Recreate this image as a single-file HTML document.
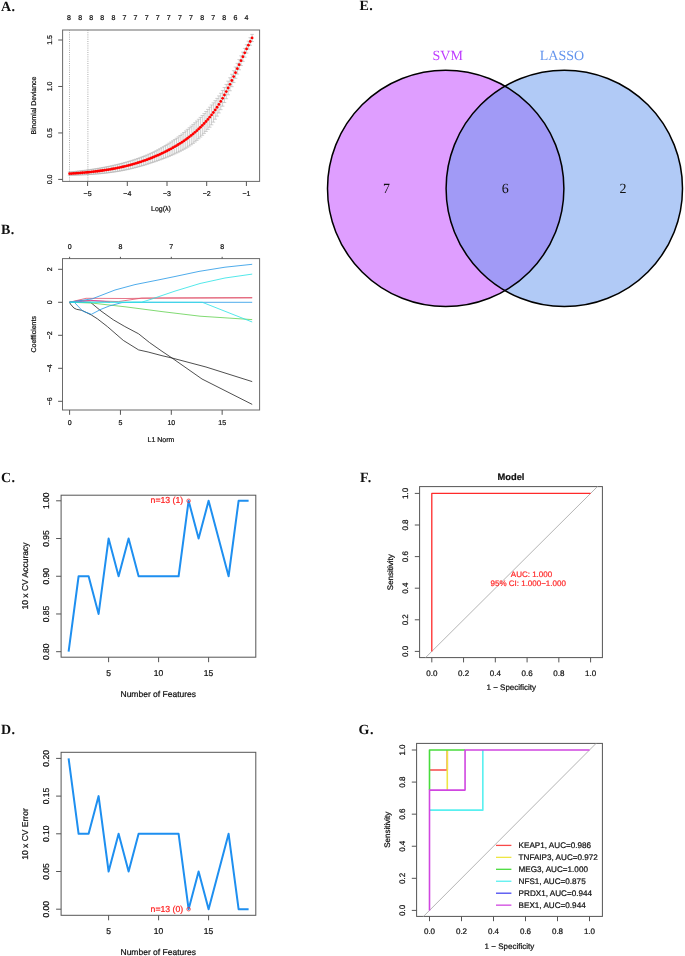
<!DOCTYPE html>
<html><head><meta charset="utf-8"><style>
html,body{margin:0;padding:0;background:#fff;}
body{width:685px;height:956px;overflow:hidden;}
svg{display:block;will-change:transform;}
text{text-rendering:geometricPrecision;}
</style></head><body>
<svg width="685" height="956" viewBox="0 0 685 956">
<rect width="685" height="956" fill="#fff"/>
<text x="0.9" y="11" text-anchor="start" font-family='"Liberation Serif", serif' font-size="14" fill="#111" stroke="#111" font-weight="bold" letter-spacing="0.6" stroke-width="0">A.</text>
<rect x="62.6" y="30" width="197" height="151.4" fill="none" stroke="#6a6a6a" stroke-width="1"/>
<line x1="58.2" y1="179.4" x2="62.6" y2="179.4" stroke="#555" stroke-width="1" />
<text transform="translate(51.7,179.4) rotate(-90)" text-anchor="middle" font-family='"Liberation Sans", sans-serif' font-size="7" fill="#111" stroke="#111" font-weight="normal"  stroke-width="0.22">0.0</text>
<line x1="58.2" y1="132.94" x2="62.6" y2="132.94" stroke="#555" stroke-width="1" />
<text transform="translate(51.7,132.94) rotate(-90)" text-anchor="middle" font-family='"Liberation Sans", sans-serif' font-size="7" fill="#111" stroke="#111" font-weight="normal"  stroke-width="0.22">0.5</text>
<line x1="58.2" y1="86.47" x2="62.6" y2="86.47" stroke="#555" stroke-width="1" />
<text transform="translate(51.7,86.47) rotate(-90)" text-anchor="middle" font-family='"Liberation Sans", sans-serif' font-size="7" fill="#111" stroke="#111" font-weight="normal"  stroke-width="0.22">1.0</text>
<line x1="58.2" y1="40" x2="62.6" y2="40" stroke="#555" stroke-width="1" />
<text transform="translate(51.7,40) rotate(-90)" text-anchor="middle" font-family='"Liberation Sans", sans-serif' font-size="7" fill="#111" stroke="#111" font-weight="normal"  stroke-width="0.22">1.5</text>
<line x1="87.6" y1="181.4" x2="87.6" y2="186" stroke="#555" stroke-width="1" />
<text x="87.6" y="195.8" text-anchor="middle" font-family='"Liberation Sans", sans-serif' font-size="7" fill="#111" stroke="#111" font-weight="normal"  stroke-width="0.22">&#8722;5</text>
<line x1="127.3" y1="181.4" x2="127.3" y2="186" stroke="#555" stroke-width="1" />
<text x="127.3" y="195.8" text-anchor="middle" font-family='"Liberation Sans", sans-serif' font-size="7" fill="#111" stroke="#111" font-weight="normal"  stroke-width="0.22">&#8722;4</text>
<line x1="167" y1="181.4" x2="167" y2="186" stroke="#555" stroke-width="1" />
<text x="167" y="195.8" text-anchor="middle" font-family='"Liberation Sans", sans-serif' font-size="7" fill="#111" stroke="#111" font-weight="normal"  stroke-width="0.22">&#8722;3</text>
<line x1="206.7" y1="181.4" x2="206.7" y2="186" stroke="#555" stroke-width="1" />
<text x="206.7" y="195.8" text-anchor="middle" font-family='"Liberation Sans", sans-serif' font-size="7" fill="#111" stroke="#111" font-weight="normal"  stroke-width="0.22">&#8722;2</text>
<line x1="246.4" y1="181.4" x2="246.4" y2="186" stroke="#555" stroke-width="1" />
<text x="246.4" y="195.8" text-anchor="middle" font-family='"Liberation Sans", sans-serif' font-size="7" fill="#111" stroke="#111" font-weight="normal"  stroke-width="0.22">&#8722;1</text>
<text transform="translate(35.5,105.5) rotate(-90)" text-anchor="middle" font-family='"Liberation Sans", sans-serif' font-size="7" fill="#111" stroke="#111" font-weight="normal"  stroke-width="0.22">Binomial Deviance</text>
<text x="161" y="211" text-anchor="middle" font-family='"Liberation Sans", sans-serif' font-size="7" fill="#111" stroke="#111" font-weight="normal"  stroke-width="0.22">Log(&#955;)</text>
<text x="69" y="20.1" text-anchor="middle" font-family='"Liberation Sans", sans-serif' font-size="7" fill="#111" stroke="#111" font-weight="normal"  stroke-width="0.22">8</text>
<text x="80.09" y="20.1" text-anchor="middle" font-family='"Liberation Sans", sans-serif' font-size="7" fill="#111" stroke="#111" font-weight="normal"  stroke-width="0.22">8</text>
<text x="91.18" y="20.1" text-anchor="middle" font-family='"Liberation Sans", sans-serif' font-size="7" fill="#111" stroke="#111" font-weight="normal"  stroke-width="0.22">8</text>
<text x="102.27" y="20.1" text-anchor="middle" font-family='"Liberation Sans", sans-serif' font-size="7" fill="#111" stroke="#111" font-weight="normal"  stroke-width="0.22">8</text>
<text x="113.36" y="20.1" text-anchor="middle" font-family='"Liberation Sans", sans-serif' font-size="7" fill="#111" stroke="#111" font-weight="normal"  stroke-width="0.22">8</text>
<text x="124.45" y="20.1" text-anchor="middle" font-family='"Liberation Sans", sans-serif' font-size="7" fill="#111" stroke="#111" font-weight="normal"  stroke-width="0.22">7</text>
<text x="135.54" y="20.1" text-anchor="middle" font-family='"Liberation Sans", sans-serif' font-size="7" fill="#111" stroke="#111" font-weight="normal"  stroke-width="0.22">7</text>
<text x="146.63" y="20.1" text-anchor="middle" font-family='"Liberation Sans", sans-serif' font-size="7" fill="#111" stroke="#111" font-weight="normal"  stroke-width="0.22">7</text>
<text x="157.72" y="20.1" text-anchor="middle" font-family='"Liberation Sans", sans-serif' font-size="7" fill="#111" stroke="#111" font-weight="normal"  stroke-width="0.22">7</text>
<text x="168.81" y="20.1" text-anchor="middle" font-family='"Liberation Sans", sans-serif' font-size="7" fill="#111" stroke="#111" font-weight="normal"  stroke-width="0.22">7</text>
<text x="179.9" y="20.1" text-anchor="middle" font-family='"Liberation Sans", sans-serif' font-size="7" fill="#111" stroke="#111" font-weight="normal"  stroke-width="0.22">7</text>
<text x="190.99" y="20.1" text-anchor="middle" font-family='"Liberation Sans", sans-serif' font-size="7" fill="#111" stroke="#111" font-weight="normal"  stroke-width="0.22">7</text>
<text x="202.08" y="20.1" text-anchor="middle" font-family='"Liberation Sans", sans-serif' font-size="7" fill="#111" stroke="#111" font-weight="normal"  stroke-width="0.22">8</text>
<text x="213.17" y="20.1" text-anchor="middle" font-family='"Liberation Sans", sans-serif' font-size="7" fill="#111" stroke="#111" font-weight="normal"  stroke-width="0.22">7</text>
<text x="224.26" y="20.1" text-anchor="middle" font-family='"Liberation Sans", sans-serif' font-size="7" fill="#111" stroke="#111" font-weight="normal"  stroke-width="0.22">8</text>
<text x="235.35" y="20.1" text-anchor="middle" font-family='"Liberation Sans", sans-serif' font-size="7" fill="#111" stroke="#111" font-weight="normal"  stroke-width="0.22">6</text>
<text x="246.44" y="20.1" text-anchor="middle" font-family='"Liberation Sans", sans-serif' font-size="7" fill="#111" stroke="#111" font-weight="normal"  stroke-width="0.22">4</text>
<line x1="69.5" y1="30" x2="69.5" y2="181.4" stroke="#888" stroke-width="0.7" stroke-dasharray="1,1.2"/>
<line x1="87.9" y1="30" x2="87.9" y2="181.4" stroke="#888" stroke-width="0.7" stroke-dasharray="1,1.2"/>
<path d="M69.6 172.04V175.29M67.8 172.04h3.6M67.8 175.29h3.6M71.44 171.86V175.25M69.64 171.86h3.6M69.64 175.25h3.6M73.29 171.67V175.2M71.49 171.67h3.6M71.49 175.2h3.6M75.13 171.47V175.15M73.33 171.47h3.6M73.33 175.15h3.6M76.97 171.27V175.09M75.17 171.27h3.6M75.17 175.09h3.6M78.82 171.06V175.03M77.02 171.06h3.6M77.02 175.03h3.6M80.66 170.85V174.95M78.86 170.85h3.6M78.86 174.95h3.6M82.5 170.63V174.88M80.7 170.63h3.6M80.7 174.88h3.6M84.35 170.4V174.79M82.55 170.4h3.6M82.55 174.79h3.6M86.19 170.16V174.69M84.39 170.16h3.6M84.39 174.69h3.6M88.03 169.91V174.59M86.23 169.91h3.6M86.23 174.59h3.6M89.88 169.65V174.48M88.08 169.65h3.6M88.08 174.48h3.6M91.72 169.39V174.36M89.92 169.39h3.6M89.92 174.36h3.6M93.56 169.11V174.23M91.76 169.11h3.6M91.76 174.23h3.6M95.41 168.82V174.08M93.61 168.82h3.6M93.61 174.08h3.6M97.25 168.53V173.93M95.45 168.53h3.6M95.45 173.93h3.6M99.09 168.22V173.77M97.29 168.22h3.6M97.29 173.77h3.6M100.94 167.9V173.59M99.14 167.9h3.6M99.14 173.59h3.6M102.78 167.57V173.41M100.98 167.57h3.6M100.98 173.41h3.6M104.63 167.22V173.21M102.83 167.22h3.6M102.83 173.21h3.6M106.47 166.87V173M104.67 166.87h3.6M104.67 173h3.6M108.31 166.5V172.77M106.51 166.5h3.6M106.51 172.77h3.6M110.16 166.11V172.53M108.36 166.11h3.6M108.36 172.53h3.6M112 165.72V172.28M110.2 165.72h3.6M110.2 172.28h3.6M113.84 165.3V172.02M112.04 165.3h3.6M112.04 172.02h3.6M115.69 164.88V171.74M113.89 164.88h3.6M113.89 171.74h3.6M117.53 164.43V171.44M115.73 164.43h3.6M115.73 171.44h3.6M119.37 163.98V171.13M117.57 163.98h3.6M117.57 171.13h3.6M121.22 163.5V170.8M119.42 163.5h3.6M119.42 170.8h3.6M123.06 163.02V170.45M121.26 163.02h3.6M121.26 170.45h3.6M124.9 162.52V170.08M123.1 162.52h3.6M123.1 170.08h3.6M126.75 162V169.7M124.95 162h3.6M124.95 169.7h3.6M128.59 161.47V169.29M126.79 161.47h3.6M126.79 169.29h3.6M130.43 160.92V168.87M128.63 160.92h3.6M128.63 168.87h3.6M132.28 160.35V168.43M130.48 160.35h3.6M130.48 168.43h3.6M134.12 159.76V167.97M132.32 159.76h3.6M132.32 167.97h3.6M135.96 159.15V167.49M134.16 159.15h3.6M134.16 167.49h3.6M137.81 158.52V166.99M136.01 158.52h3.6M136.01 166.99h3.6M139.65 157.86V166.48M137.85 157.86h3.6M137.85 166.48h3.6M141.49 157.18V165.95M139.69 157.18h3.6M139.69 165.95h3.6M143.34 156.48V165.41M141.54 156.48h3.6M141.54 165.41h3.6M145.18 155.75V164.85M143.38 155.75h3.6M143.38 164.85h3.6M147.02 154.99V164.27M145.22 154.99h3.6M145.22 164.27h3.6M148.87 154.2V163.68M147.07 154.2h3.6M147.07 163.68h3.6M150.71 153.38V163.07M148.91 153.38h3.6M148.91 163.07h3.6M152.55 152.53V162.45M150.75 152.53h3.6M150.75 162.45h3.6M154.4 151.63V161.83M152.6 151.63h3.6M152.6 161.83h3.6M156.24 150.7V161.2M154.44 150.7h3.6M154.44 161.2h3.6M158.08 149.73V160.55M156.28 149.73h3.6M156.28 160.55h3.6M159.93 148.72V159.9M158.13 148.72h3.6M158.13 159.9h3.6M161.77 147.68V159.22M159.97 147.68h3.6M159.97 159.22h3.6M163.62 146.61V158.53M161.82 146.61h3.6M161.82 158.53h3.6M165.46 145.51V157.82M163.66 145.51h3.6M163.66 157.82h3.6M167.3 144.37V157.08M165.5 144.37h3.6M165.5 157.08h3.6M169.15 143.21V156.33M167.35 143.21h3.6M167.35 156.33h3.6M170.99 142.02V155.54M169.19 142.02h3.6M169.19 155.54h3.6M172.83 140.8V154.73M171.03 140.8h3.6M171.03 154.73h3.6M174.68 139.55V153.88M172.88 139.55h3.6M172.88 153.88h3.6M176.52 138.26V153M174.72 138.26h3.6M174.72 153h3.6M178.36 136.9V152.12M176.56 136.9h3.6M176.56 152.12h3.6M180.21 135.49V151.22M178.41 135.49h3.6M178.41 151.22h3.6M182.05 134.02V150.28M180.25 134.02h3.6M180.25 150.28h3.6M183.89 132.5V149.31M182.09 132.5h3.6M182.09 149.31h3.6M185.74 130.95V148.28M183.94 130.95h3.6M183.94 148.28h3.6M187.58 129.35V147.18M185.78 129.35h3.6M185.78 147.18h3.6M189.42 127.73V146.01M187.62 127.73h3.6M187.62 146.01h3.6M191.27 126.08V144.76M189.47 126.08h3.6M189.47 144.76h3.6M193.11 124.42V143.4M191.31 124.42h3.6M191.31 143.4h3.6M194.95 122.74V141.94M193.15 122.74h3.6M193.15 141.94h3.6M196.8 121.03V140.38M195 121.03h3.6M195 140.38h3.6M198.64 119.26V138.75M196.84 119.26h3.6M196.84 138.75h3.6M200.48 117.42V137.05M198.68 117.42h3.6M198.68 137.05h3.6M202.33 115.52V135.27M200.53 115.52h3.6M200.53 135.27h3.6M204.17 113.56V133.4M202.37 113.56h3.6M202.37 133.4h3.6M206.01 111.52V131.44M204.21 111.52h3.6M204.21 131.44h3.6M207.86 109.4V129.38M206.06 109.4h3.6M206.06 129.38h3.6M209.7 107.2V127.2M207.9 107.2h3.6M207.9 127.2h3.6M211.54 104.98V124.82M209.74 104.98h3.6M209.74 124.82h3.6M213.39 102.82V122.14M211.59 102.82h3.6M211.59 122.14h3.6M215.23 100.65V119.23M213.43 100.65h3.6M213.43 119.23h3.6M217.07 98.38V116.14M215.27 98.38h3.6M215.27 116.14h3.6M218.92 95.92V112.95M217.12 95.92h3.6M217.12 112.95h3.6M220.76 93.28V109.65M218.96 93.28h3.6M218.96 109.65h3.6M222.61 90.48V106.17M220.81 90.48h3.6M220.81 106.17h3.6M224.45 87.53V102.52M222.65 87.53h3.6M222.65 102.52h3.6M226.29 84.41V98.72M224.49 84.41h3.6M224.49 98.72h3.6M228.14 81.16V94.8M226.34 81.16h3.6M226.34 94.8h3.6M229.98 77.77V90.78M228.18 77.77h3.6M228.18 90.78h3.6M231.82 74.27V86.68M230.02 74.27h3.6M230.02 86.68h3.6M233.67 70.69V82.52M231.87 70.69h3.6M231.87 82.52h3.6M235.51 67.04V78.3M233.71 67.04h3.6M233.71 78.3h3.6M237.35 63.33V74.06M235.55 63.33h3.6M235.55 74.06h3.6M239.2 59.6V69.81M237.4 59.6h3.6M237.4 69.81h3.6M241.04 55.84V65.57M239.24 55.84h3.6M239.24 65.57h3.6M242.88 52.1V61.36M241.08 52.1h3.6M241.08 61.36h3.6M244.73 48.39V57.2M242.93 48.39h3.6M242.93 57.2h3.6M246.57 44.75V53.12M244.77 44.75h3.6M244.77 53.12h3.6M248.41 41.18V49.13M246.61 41.18h3.6M246.61 49.13h3.6M250.26 37.72V45.27M248.46 37.72h3.6M248.46 45.27h3.6M252.1 34.38V41.55M250.3 34.38h3.6M250.3 41.55h3.6" stroke="#a8a8a8" stroke-width="0.55" fill="none"/>
<g fill="#ff0000"><circle cx="69.6" cy="173.66" r="1.4"/><circle cx="71.44" cy="173.55" r="1.4"/><circle cx="73.29" cy="173.43" r="1.4"/><circle cx="75.13" cy="173.31" r="1.4"/><circle cx="76.97" cy="173.18" r="1.4"/><circle cx="78.82" cy="173.04" r="1.4"/><circle cx="80.66" cy="172.9" r="1.4"/><circle cx="82.5" cy="172.75" r="1.4"/><circle cx="84.35" cy="172.59" r="1.4"/><circle cx="86.19" cy="172.43" r="1.4"/><circle cx="88.03" cy="172.25" r="1.4"/><circle cx="89.88" cy="172.07" r="1.4"/><circle cx="91.72" cy="171.87" r="1.4"/><circle cx="93.56" cy="171.67" r="1.4"/><circle cx="95.41" cy="171.45" r="1.4"/><circle cx="97.25" cy="171.23" r="1.4"/><circle cx="99.09" cy="170.99" r="1.4"/><circle cx="100.94" cy="170.75" r="1.4"/><circle cx="102.78" cy="170.49" r="1.4"/><circle cx="104.63" cy="170.22" r="1.4"/><circle cx="106.47" cy="169.93" r="1.4"/><circle cx="108.31" cy="169.63" r="1.4"/><circle cx="110.16" cy="169.32" r="1.4"/><circle cx="112" cy="169" r="1.4"/><circle cx="113.84" cy="168.66" r="1.4"/><circle cx="115.69" cy="168.31" r="1.4"/><circle cx="117.53" cy="167.94" r="1.4"/><circle cx="119.37" cy="167.55" r="1.4"/><circle cx="121.22" cy="167.15" r="1.4"/><circle cx="123.06" cy="166.73" r="1.4"/><circle cx="124.9" cy="166.3" r="1.4"/><circle cx="126.75" cy="165.85" r="1.4"/><circle cx="128.59" cy="165.38" r="1.4"/><circle cx="130.43" cy="164.89" r="1.4"/><circle cx="132.28" cy="164.39" r="1.4"/><circle cx="134.12" cy="163.86" r="1.4"/><circle cx="135.96" cy="163.32" r="1.4"/><circle cx="137.81" cy="162.76" r="1.4"/><circle cx="139.65" cy="162.17" r="1.4"/><circle cx="141.49" cy="161.57" r="1.4"/><circle cx="143.34" cy="160.94" r="1.4"/><circle cx="145.18" cy="160.3" r="1.4"/><circle cx="147.02" cy="159.63" r="1.4"/><circle cx="148.87" cy="158.94" r="1.4"/><circle cx="150.71" cy="158.23" r="1.4"/><circle cx="152.55" cy="157.49" r="1.4"/><circle cx="154.4" cy="156.73" r="1.4"/><circle cx="156.24" cy="155.95" r="1.4"/><circle cx="158.08" cy="155.14" r="1.4"/><circle cx="159.93" cy="154.31" r="1.4"/><circle cx="161.77" cy="153.45" r="1.4"/><circle cx="163.62" cy="152.57" r="1.4"/><circle cx="165.46" cy="151.66" r="1.4"/><circle cx="167.3" cy="150.73" r="1.4"/><circle cx="169.15" cy="149.77" r="1.4"/><circle cx="170.99" cy="148.78" r="1.4"/><circle cx="172.83" cy="147.76" r="1.4"/><circle cx="174.68" cy="146.71" r="1.4"/><circle cx="176.52" cy="145.63" r="1.4"/><circle cx="178.36" cy="144.51" r="1.4"/><circle cx="180.21" cy="143.35" r="1.4"/><circle cx="182.05" cy="142.15" r="1.4"/><circle cx="183.89" cy="140.91" r="1.4"/><circle cx="185.74" cy="139.61" r="1.4"/><circle cx="187.58" cy="138.27" r="1.4"/><circle cx="189.42" cy="136.87" r="1.4"/><circle cx="191.27" cy="135.42" r="1.4"/><circle cx="193.11" cy="133.91" r="1.4"/><circle cx="194.95" cy="132.34" r="1.4"/><circle cx="196.8" cy="130.71" r="1.4"/><circle cx="198.64" cy="129.01" r="1.4"/><circle cx="200.48" cy="127.24" r="1.4"/><circle cx="202.33" cy="125.4" r="1.4"/><circle cx="204.17" cy="123.48" r="1.4"/><circle cx="206.01" cy="121.48" r="1.4"/><circle cx="207.86" cy="119.39" r="1.4"/><circle cx="209.7" cy="117.2" r="1.4"/><circle cx="211.54" cy="114.9" r="1.4"/><circle cx="213.39" cy="112.48" r="1.4"/><circle cx="215.23" cy="109.94" r="1.4"/><circle cx="217.07" cy="107.26" r="1.4"/><circle cx="218.92" cy="104.44" r="1.4"/><circle cx="220.76" cy="101.46" r="1.4"/><circle cx="222.61" cy="98.33" r="1.4"/><circle cx="224.45" cy="95.02" r="1.4"/><circle cx="226.29" cy="91.57" r="1.4"/><circle cx="228.14" cy="87.98" r="1.4"/><circle cx="229.98" cy="84.28" r="1.4"/><circle cx="231.82" cy="80.48" r="1.4"/><circle cx="233.67" cy="76.6" r="1.4"/><circle cx="235.51" cy="72.67" r="1.4"/><circle cx="237.35" cy="68.7" r="1.4"/><circle cx="239.2" cy="64.7" r="1.4"/><circle cx="241.04" cy="60.71" r="1.4"/><circle cx="242.88" cy="56.73" r="1.4"/><circle cx="244.73" cy="52.8" r="1.4"/><circle cx="246.57" cy="48.93" r="1.4"/><circle cx="248.41" cy="45.16" r="1.4"/><circle cx="250.26" cy="41.49" r="1.4"/><circle cx="252.1" cy="37.96" r="1.4"/></g>
<text x="0.9" y="234.4" text-anchor="start" font-family='"Liberation Serif", serif' font-size="14" fill="#111" stroke="#111" font-weight="bold" letter-spacing="0.6" stroke-width="0">B.</text>
<rect x="62.5" y="258.6" width="197.1" height="151.4" fill="none" stroke="#6a6a6a" stroke-width="1"/>
<line x1="58.1" y1="269.3" x2="62.5" y2="269.3" stroke="#555" stroke-width="1" />
<text transform="translate(51.7,269.3) rotate(-90)" text-anchor="middle" font-family='"Liberation Sans", sans-serif' font-size="7" fill="#111" stroke="#111" font-weight="normal"  stroke-width="0.22">2</text>
<line x1="58.1" y1="302.3" x2="62.5" y2="302.3" stroke="#555" stroke-width="1" />
<text transform="translate(51.7,302.3) rotate(-90)" text-anchor="middle" font-family='"Liberation Sans", sans-serif' font-size="7" fill="#111" stroke="#111" font-weight="normal"  stroke-width="0.22">0</text>
<line x1="58.1" y1="335.3" x2="62.5" y2="335.3" stroke="#555" stroke-width="1" />
<text transform="translate(51.7,335.3) rotate(-90)" text-anchor="middle" font-family='"Liberation Sans", sans-serif' font-size="7" fill="#111" stroke="#111" font-weight="normal"  stroke-width="0.22">&#8722;2</text>
<line x1="58.1" y1="368.3" x2="62.5" y2="368.3" stroke="#555" stroke-width="1" />
<text transform="translate(51.7,368.3) rotate(-90)" text-anchor="middle" font-family='"Liberation Sans", sans-serif' font-size="7" fill="#111" stroke="#111" font-weight="normal"  stroke-width="0.22">&#8722;4</text>
<line x1="58.1" y1="401.3" x2="62.5" y2="401.3" stroke="#555" stroke-width="1" />
<text transform="translate(51.7,401.3) rotate(-90)" text-anchor="middle" font-family='"Liberation Sans", sans-serif' font-size="7" fill="#111" stroke="#111" font-weight="normal"  stroke-width="0.22">&#8722;6</text>
<line x1="69.6" y1="410" x2="69.6" y2="414.8" stroke="#555" stroke-width="1" />
<line x1="69.6" y1="258.6" x2="69.6" y2="256.8" stroke="#555" stroke-width="1" />
<text x="69.6" y="425.1" text-anchor="middle" font-family='"Liberation Sans", sans-serif' font-size="7" fill="#111" stroke="#111" font-weight="normal"  stroke-width="0.22">0</text>
<text x="69.6" y="249" text-anchor="middle" font-family='"Liberation Sans", sans-serif' font-size="7" fill="#111" stroke="#111" font-weight="normal"  stroke-width="0.22">0</text>
<line x1="120.45" y1="410" x2="120.45" y2="414.8" stroke="#555" stroke-width="1" />
<line x1="120.45" y1="258.6" x2="120.45" y2="256.8" stroke="#555" stroke-width="1" />
<text x="120.45" y="425.1" text-anchor="middle" font-family='"Liberation Sans", sans-serif' font-size="7" fill="#111" stroke="#111" font-weight="normal"  stroke-width="0.22">5</text>
<text x="120.45" y="249" text-anchor="middle" font-family='"Liberation Sans", sans-serif' font-size="7" fill="#111" stroke="#111" font-weight="normal"  stroke-width="0.22">8</text>
<line x1="171.3" y1="410" x2="171.3" y2="414.8" stroke="#555" stroke-width="1" />
<line x1="171.3" y1="258.6" x2="171.3" y2="256.8" stroke="#555" stroke-width="1" />
<text x="171.3" y="425.1" text-anchor="middle" font-family='"Liberation Sans", sans-serif' font-size="7" fill="#111" stroke="#111" font-weight="normal"  stroke-width="0.22">10</text>
<text x="171.3" y="249" text-anchor="middle" font-family='"Liberation Sans", sans-serif' font-size="7" fill="#111" stroke="#111" font-weight="normal"  stroke-width="0.22">7</text>
<line x1="222.15" y1="410" x2="222.15" y2="414.8" stroke="#555" stroke-width="1" />
<line x1="222.15" y1="258.6" x2="222.15" y2="256.8" stroke="#555" stroke-width="1" />
<text x="222.15" y="425.1" text-anchor="middle" font-family='"Liberation Sans", sans-serif' font-size="7" fill="#111" stroke="#111" font-weight="normal"  stroke-width="0.22">15</text>
<text x="222.15" y="249" text-anchor="middle" font-family='"Liberation Sans", sans-serif' font-size="7" fill="#111" stroke="#111" font-weight="normal"  stroke-width="0.22">8</text>
<text transform="translate(35.5,334.3) rotate(-90)" text-anchor="middle" font-family='"Liberation Sans", sans-serif' font-size="7" fill="#111" stroke="#111" font-weight="normal"  stroke-width="0.22">Coefficients</text>
<text x="161" y="442.1" text-anchor="middle" font-family='"Liberation Sans", sans-serif' font-size="7" fill="#111" stroke="#111" font-weight="normal"  stroke-width="0.22">L1 Norm</text>
<polyline points="69.6,302.2 70.4,304 73.9,308 76.5,309.3 81.8,310.3 91.4,315 97.5,318.9 107.3,326.5 123.3,340.4 138.6,349.9 148.1,352 162,355.7 172,358 206,367 252.2,381.6" fill="none" stroke="#222" stroke-width="0.8" stroke-linejoin="round" />
<polyline points="69.6,302.2 90.5,302.3 101,311 113.3,319.8 124.8,326.5 138.6,333.8 149.6,342.6 162,351.3 172,358 202,379 252.2,404.4" fill="none" stroke="#222" stroke-width="0.8" stroke-linejoin="round" />
<polyline points="69.6,302.2 92.3,303.1 126,306.9 162,311.6 200,316.2 252.2,319.6" fill="none" stroke="#61D04F" stroke-width="0.8" stroke-linejoin="round" />
<polyline points="69.6,302.2 82.6,301.4 90.5,300.3 104.5,301.4 110,302.2" fill="none" stroke="#CD0BBC" stroke-width="0.8" stroke-linejoin="round" />
<polyline points="69.6,302.2 86.1,298.3 126,298.5 162,298 252.2,297.6" fill="none" stroke="#DF536B" stroke-width="0.8" stroke-linejoin="round" />
<polyline points="69.6,302.2 79.1,300.5 100,301 118.4,301.6 141.7,298.1 200,298 252.2,297.9" fill="none" stroke="#DF536B" stroke-width="0.8" stroke-linejoin="round" />
<polyline points="69.6,302.2 92.3,298.8 115,290 135,284.6 158,280 175,276.5 199,271.4 225,267.2 252.2,264.3" fill="none" stroke="#2297E6" stroke-width="0.8" stroke-linejoin="round" />
<polyline points="69.6,302.2 74.3,302.3 82.6,311 91.4,314.3 101,309.3 109.8,305.8 122,302.6 135,302.3 252.2,302.3" fill="none" stroke="#2297E6" stroke-width="0.8" stroke-linejoin="round" />
<polyline points="69.6,302.2 141.7,302.2 150,299.6 175,291.1 200,283.5 225,278 252.2,274.1" fill="none" stroke="#28E2E5" stroke-width="0.8" stroke-linejoin="round" />
<polyline points="69.6,302.2 202.3,302.3 252.2,322" fill="none" stroke="#28E2E5" stroke-width="0.8" stroke-linejoin="round" />
<text x="0.9" y="482.4" text-anchor="start" font-family='"Liberation Serif", serif' font-size="14" fill="#111" stroke="#111" font-weight="bold" letter-spacing="0.6" stroke-width="0">C.</text>
<rect x="61.1" y="495.2" width="194.7" height="162" fill="none" stroke="#555" stroke-width="1"/>
<line x1="56.1" y1="651.7" x2="61.1" y2="651.7" stroke="#555" stroke-width="1" />
<text transform="translate(48.6,651.7) rotate(-90)" text-anchor="middle" font-family='"Liberation Sans", sans-serif' font-size="8.5" fill="#111" stroke="#111" font-weight="normal"  stroke-width="0.22">0.80</text>
<line x1="56.1" y1="613.98" x2="61.1" y2="613.98" stroke="#555" stroke-width="1" />
<text transform="translate(48.6,613.98) rotate(-90)" text-anchor="middle" font-family='"Liberation Sans", sans-serif' font-size="8.5" fill="#111" stroke="#111" font-weight="normal"  stroke-width="0.22">0.85</text>
<line x1="56.1" y1="576.25" x2="61.1" y2="576.25" stroke="#555" stroke-width="1" />
<text transform="translate(48.6,576.25) rotate(-90)" text-anchor="middle" font-family='"Liberation Sans", sans-serif' font-size="8.5" fill="#111" stroke="#111" font-weight="normal"  stroke-width="0.22">0.90</text>
<line x1="56.1" y1="538.53" x2="61.1" y2="538.53" stroke="#555" stroke-width="1" />
<text transform="translate(48.6,538.53) rotate(-90)" text-anchor="middle" font-family='"Liberation Sans", sans-serif' font-size="8.5" fill="#111" stroke="#111" font-weight="normal"  stroke-width="0.22">0.95</text>
<line x1="56.1" y1="500.8" x2="61.1" y2="500.8" stroke="#555" stroke-width="1" />
<text transform="translate(48.6,500.8) rotate(-90)" text-anchor="middle" font-family='"Liberation Sans", sans-serif' font-size="8.5" fill="#111" stroke="#111" font-weight="normal"  stroke-width="0.22">1.00</text>
<line x1="108.6" y1="657.2" x2="108.6" y2="662.2" stroke="#555" stroke-width="1" />
<text x="108.6" y="676.1" text-anchor="middle" font-family='"Liberation Sans", sans-serif' font-size="8.5" fill="#111" stroke="#111" font-weight="normal"  stroke-width="0.22">5</text>
<line x1="158.6" y1="657.2" x2="158.6" y2="662.2" stroke="#555" stroke-width="1" />
<text x="158.6" y="676.1" text-anchor="middle" font-family='"Liberation Sans", sans-serif' font-size="8.5" fill="#111" stroke="#111" font-weight="normal"  stroke-width="0.22">10</text>
<line x1="208.6" y1="657.2" x2="208.6" y2="662.2" stroke="#555" stroke-width="1" />
<text x="208.6" y="676.1" text-anchor="middle" font-family='"Liberation Sans", sans-serif' font-size="8.5" fill="#111" stroke="#111" font-weight="normal"  stroke-width="0.22">15</text>
<text x="158.3" y="696.6" text-anchor="middle" font-family='"Liberation Sans", sans-serif' font-size="8.5" fill="#111" stroke="#111" font-weight="normal"  stroke-width="0.22">Number of Features</text>
<text transform="translate(28.1,576) rotate(-90)" text-anchor="middle" font-family='"Liberation Sans", sans-serif' font-size="8.5" fill="#111" stroke="#111" font-weight="normal"  stroke-width="0.22">10 x CV Accuracy</text>
<polyline points="68.6,651.7 78.6,576.25 88.6,576.25 98.6,613.98 108.6,538.53 118.6,576.25 128.6,538.53 138.6,576.25 148.6,576.25 158.6,576.25 168.6,576.25 178.6,576.25 188.6,500.8 198.6,538.53 208.6,500.8 218.6,538.53 228.6,576.25 238.6,500.8 248.6,500.8" fill="none" stroke="#1E8FF0" stroke-width="2" stroke-linejoin="round" stroke-linejoin="miter"/>
<circle cx="188.6" cy="500.8" r="1.8" fill="none" stroke="#ff2020" stroke-width="0.7"/>
<text x="183.2" y="503.4" text-anchor="end" font-family='"Liberation Sans", sans-serif' font-size="8.7" fill="#ff2020" stroke="#ff2020" font-weight="normal"  stroke-width="0.22">n=13 (1)</text>
<text x="0.9" y="734.4" text-anchor="start" font-family='"Liberation Serif", serif' font-size="14" fill="#111" stroke="#111" font-weight="bold" letter-spacing="0.6" stroke-width="0">D.</text>
<rect x="61.1" y="752.3" width="194.7" height="163" fill="none" stroke="#555" stroke-width="1"/>
<line x1="56.1" y1="909.2" x2="61.1" y2="909.2" stroke="#555" stroke-width="1" />
<text transform="translate(48.6,909.2) rotate(-90)" text-anchor="middle" font-family='"Liberation Sans", sans-serif' font-size="8.5" fill="#111" stroke="#111" font-weight="normal"  stroke-width="0.22">0.00</text>
<line x1="56.1" y1="871.5" x2="61.1" y2="871.5" stroke="#555" stroke-width="1" />
<text transform="translate(48.6,871.5) rotate(-90)" text-anchor="middle" font-family='"Liberation Sans", sans-serif' font-size="8.5" fill="#111" stroke="#111" font-weight="normal"  stroke-width="0.22">0.05</text>
<line x1="56.1" y1="833.8" x2="61.1" y2="833.8" stroke="#555" stroke-width="1" />
<text transform="translate(48.6,833.8) rotate(-90)" text-anchor="middle" font-family='"Liberation Sans", sans-serif' font-size="8.5" fill="#111" stroke="#111" font-weight="normal"  stroke-width="0.22">0.10</text>
<line x1="56.1" y1="796.1" x2="61.1" y2="796.1" stroke="#555" stroke-width="1" />
<text transform="translate(48.6,796.1) rotate(-90)" text-anchor="middle" font-family='"Liberation Sans", sans-serif' font-size="8.5" fill="#111" stroke="#111" font-weight="normal"  stroke-width="0.22">0.15</text>
<line x1="56.1" y1="758.4" x2="61.1" y2="758.4" stroke="#555" stroke-width="1" />
<text transform="translate(48.6,758.4) rotate(-90)" text-anchor="middle" font-family='"Liberation Sans", sans-serif' font-size="8.5" fill="#111" stroke="#111" font-weight="normal"  stroke-width="0.22">0.20</text>
<line x1="108.6" y1="915.3" x2="108.6" y2="920.3" stroke="#555" stroke-width="1" />
<text x="108.6" y="934" text-anchor="middle" font-family='"Liberation Sans", sans-serif' font-size="8.5" fill="#111" stroke="#111" font-weight="normal"  stroke-width="0.22">5</text>
<line x1="158.6" y1="915.3" x2="158.6" y2="920.3" stroke="#555" stroke-width="1" />
<text x="158.6" y="934" text-anchor="middle" font-family='"Liberation Sans", sans-serif' font-size="8.5" fill="#111" stroke="#111" font-weight="normal"  stroke-width="0.22">10</text>
<line x1="208.6" y1="915.3" x2="208.6" y2="920.3" stroke="#555" stroke-width="1" />
<text x="208.6" y="934" text-anchor="middle" font-family='"Liberation Sans", sans-serif' font-size="8.5" fill="#111" stroke="#111" font-weight="normal"  stroke-width="0.22">15</text>
<text x="158.3" y="954.5" text-anchor="middle" font-family='"Liberation Sans", sans-serif' font-size="8.5" fill="#111" stroke="#111" font-weight="normal"  stroke-width="0.22">Number of Features</text>
<text transform="translate(28.1,834) rotate(-90)" text-anchor="middle" font-family='"Liberation Sans", sans-serif' font-size="8.5" fill="#111" stroke="#111" font-weight="normal"  stroke-width="0.22">10 x CV Error</text>
<polyline points="68.6,758.4 78.6,833.8 88.6,833.8 98.6,796.1 108.6,871.5 118.6,833.8 128.6,871.5 138.6,833.8 148.6,833.8 158.6,833.8 168.6,833.8 178.6,833.8 188.6,909.2 198.6,871.5 208.6,909.2 218.6,871.5 228.6,833.8 238.6,909.2 248.6,909.2" fill="none" stroke="#1E8FF0" stroke-width="2" stroke-linejoin="round" stroke-linejoin="miter"/>
<circle cx="188.6" cy="909.2" r="1.8" fill="none" stroke="#ff2020" stroke-width="0.7"/>
<text x="183.2" y="911.8" text-anchor="end" font-family='"Liberation Sans", sans-serif' font-size="8.7" fill="#ff2020" stroke="#ff2020" font-weight="normal"  stroke-width="0.22">n=13 (0)</text>
<text x="359.4" y="10.4" text-anchor="start" font-family='"Liberation Serif", serif' font-size="14" fill="#111" stroke="#111" font-weight="bold" letter-spacing="0.6" stroke-width="0">E.</text>
<circle cx="445.7" cy="188.4" r="118.2" fill="#BF3EFF" fill-opacity="0.5" stroke="none"/>
<circle cx="564.3" cy="188.4" r="118.2" fill="#6495ED" fill-opacity="0.5" stroke="none"/>
<circle cx="445.7" cy="188.4" r="118.2" fill="none" stroke="#000" stroke-width="1.5"/>
<circle cx="564.3" cy="188.4" r="118.2" fill="none" stroke="#000" stroke-width="1.5"/>
<text x="447.7" y="60" text-anchor="middle" font-family='"Liberation Serif", serif' font-size="14" fill="#BF3EFF" stroke="#BF3EFF" font-weight="normal"  stroke-width="0">SVM</text>
<text x="561.9" y="60" text-anchor="middle" font-family='"Liberation Serif", serif' font-size="14" fill="#6495ED" stroke="#6495ED" font-weight="normal"  stroke-width="0">LASSO</text>
<text x="386.6" y="193.2" text-anchor="middle" font-family='"Liberation Serif", serif' font-size="14" fill="#111" stroke="#111" font-weight="normal"  stroke-width="0">7</text>
<text x="505.3" y="193.2" text-anchor="middle" font-family='"Liberation Serif", serif' font-size="14" fill="#111" stroke="#111" font-weight="normal"  stroke-width="0">6</text>
<text x="623.1" y="193.2" text-anchor="middle" font-family='"Liberation Serif", serif' font-size="14" fill="#111" stroke="#111" font-weight="normal"  stroke-width="0">2</text>
<text x="360" y="482" text-anchor="start" font-family='"Liberation Serif", serif' font-size="14" fill="#111" stroke="#111" font-weight="bold" letter-spacing="0.6" stroke-width="0">F.</text>
<rect x="419.6" y="486.6" width="182.8" height="171" fill="none" stroke="#555" stroke-width="1"/>
<line x1="414.8" y1="651.4" x2="419.6" y2="651.4" stroke="#555" stroke-width="1" />
<text transform="translate(407.9,651.4) rotate(-90)" text-anchor="middle" font-family='"Liberation Sans", sans-serif' font-size="8" fill="#111" stroke="#111" font-weight="normal"  stroke-width="0.22">0.0</text>
<line x1="431.8" y1="657.6" x2="431.8" y2="662.4" stroke="#555" stroke-width="1" />
<text x="431.8" y="675.5" text-anchor="middle" font-family='"Liberation Sans", sans-serif' font-size="8" fill="#111" stroke="#111" font-weight="normal"  stroke-width="0.22">0.0</text>
<line x1="414.8" y1="619.8" x2="419.6" y2="619.8" stroke="#555" stroke-width="1" />
<text transform="translate(407.9,619.8) rotate(-90)" text-anchor="middle" font-family='"Liberation Sans", sans-serif' font-size="8" fill="#111" stroke="#111" font-weight="normal"  stroke-width="0.22">0.2</text>
<line x1="463.56" y1="657.6" x2="463.56" y2="662.4" stroke="#555" stroke-width="1" />
<text x="463.56" y="675.5" text-anchor="middle" font-family='"Liberation Sans", sans-serif' font-size="8" fill="#111" stroke="#111" font-weight="normal"  stroke-width="0.22">0.2</text>
<line x1="414.8" y1="588.2" x2="419.6" y2="588.2" stroke="#555" stroke-width="1" />
<text transform="translate(407.9,588.2) rotate(-90)" text-anchor="middle" font-family='"Liberation Sans", sans-serif' font-size="8" fill="#111" stroke="#111" font-weight="normal"  stroke-width="0.22">0.4</text>
<line x1="495.32" y1="657.6" x2="495.32" y2="662.4" stroke="#555" stroke-width="1" />
<text x="495.32" y="675.5" text-anchor="middle" font-family='"Liberation Sans", sans-serif' font-size="8" fill="#111" stroke="#111" font-weight="normal"  stroke-width="0.22">0.4</text>
<line x1="414.8" y1="556.6" x2="419.6" y2="556.6" stroke="#555" stroke-width="1" />
<text transform="translate(407.9,556.6) rotate(-90)" text-anchor="middle" font-family='"Liberation Sans", sans-serif' font-size="8" fill="#111" stroke="#111" font-weight="normal"  stroke-width="0.22">0.6</text>
<line x1="527.08" y1="657.6" x2="527.08" y2="662.4" stroke="#555" stroke-width="1" />
<text x="527.08" y="675.5" text-anchor="middle" font-family='"Liberation Sans", sans-serif' font-size="8" fill="#111" stroke="#111" font-weight="normal"  stroke-width="0.22">0.6</text>
<line x1="414.8" y1="525" x2="419.6" y2="525" stroke="#555" stroke-width="1" />
<text transform="translate(407.9,525) rotate(-90)" text-anchor="middle" font-family='"Liberation Sans", sans-serif' font-size="8" fill="#111" stroke="#111" font-weight="normal"  stroke-width="0.22">0.8</text>
<line x1="558.84" y1="657.6" x2="558.84" y2="662.4" stroke="#555" stroke-width="1" />
<text x="558.84" y="675.5" text-anchor="middle" font-family='"Liberation Sans", sans-serif' font-size="8" fill="#111" stroke="#111" font-weight="normal"  stroke-width="0.22">0.8</text>
<line x1="414.8" y1="493.4" x2="419.6" y2="493.4" stroke="#555" stroke-width="1" />
<text transform="translate(407.9,493.4) rotate(-90)" text-anchor="middle" font-family='"Liberation Sans", sans-serif' font-size="8" fill="#111" stroke="#111" font-weight="normal"  stroke-width="0.22">1.0</text>
<line x1="590.6" y1="657.6" x2="590.6" y2="662.4" stroke="#555" stroke-width="1" />
<text x="590.6" y="675.5" text-anchor="middle" font-family='"Liberation Sans", sans-serif' font-size="8" fill="#111" stroke="#111" font-weight="normal"  stroke-width="0.22">1.0</text>
<text x="511.3" y="690.3" text-anchor="middle" font-family='"Liberation Sans", sans-serif' font-size="8" fill="#111" stroke="#111" font-weight="normal"  stroke-width="0.22">1 &#8722; Specificity</text>
<text transform="translate(393.1,572.2) rotate(-90)" text-anchor="middle" font-family='"Liberation Sans", sans-serif' font-size="8" fill="#111" stroke="#111" font-weight="normal"  stroke-width="0.22">Sensitivity</text>
<text x="511" y="480" text-anchor="middle" font-family='"Liberation Sans", sans-serif' font-size="9.3" fill="#111" stroke="#111" font-weight="bold"  stroke-width="0.22">Model</text>
<clipPath id="cf"><rect x="419.6" y="486.6" width="182.79999999999995" height="171.0"/></clipPath>
<line x1="400.04" y1="683" x2="622.36" y2="461.8" stroke="#b4b4b4" stroke-width="1" clip-path="url(#cf)"/>
<polyline points="431.8,651.4 431.8,493.4 590.6,493.4" fill="none" stroke="#ff2a2a" stroke-width="1.3" stroke-linejoin="round" />
<text x="531.5" y="577.3" text-anchor="middle" font-family='"Liberation Sans", sans-serif' font-size="8" fill="#ff2a2a" stroke="#ff2a2a" font-weight="normal"  stroke-width="0.22">AUC: 1.000</text>
<text x="528.2" y="585.8" text-anchor="middle" font-family='"Liberation Sans", sans-serif' font-size="8" fill="#ff2a2a" stroke="#ff2a2a" font-weight="normal"  stroke-width="0.22">95% CI: 1.000&#8722;1.000</text>
<text x="358.4" y="734.4" text-anchor="start" font-family='"Liberation Serif", serif' font-size="14" fill="#111" stroke="#111" font-weight="bold" letter-spacing="0.6" stroke-width="0">G.</text>
<rect x="416.6" y="743.4" width="185.8" height="173" fill="none" stroke="#555" stroke-width="1"/>
<line x1="411.8" y1="910.4" x2="416.6" y2="910.4" stroke="#555" stroke-width="1" />
<text transform="translate(404.9,910.4) rotate(-90)" text-anchor="middle" font-family='"Liberation Sans", sans-serif' font-size="8" fill="#111" stroke="#111" font-weight="normal"  stroke-width="0.22">0.0</text>
<line x1="429.5" y1="916.4" x2="429.5" y2="921.2" stroke="#555" stroke-width="1" />
<text x="429.5" y="934.4" text-anchor="middle" font-family='"Liberation Sans", sans-serif' font-size="8" fill="#111" stroke="#111" font-weight="normal"  stroke-width="0.22">0.0</text>
<line x1="411.8" y1="878.32" x2="416.6" y2="878.32" stroke="#555" stroke-width="1" />
<text transform="translate(404.9,878.32) rotate(-90)" text-anchor="middle" font-family='"Liberation Sans", sans-serif' font-size="8" fill="#111" stroke="#111" font-weight="normal"  stroke-width="0.22">0.2</text>
<line x1="461.5" y1="916.4" x2="461.5" y2="921.2" stroke="#555" stroke-width="1" />
<text x="461.5" y="934.4" text-anchor="middle" font-family='"Liberation Sans", sans-serif' font-size="8" fill="#111" stroke="#111" font-weight="normal"  stroke-width="0.22">0.2</text>
<line x1="411.8" y1="846.24" x2="416.6" y2="846.24" stroke="#555" stroke-width="1" />
<text transform="translate(404.9,846.24) rotate(-90)" text-anchor="middle" font-family='"Liberation Sans", sans-serif' font-size="8" fill="#111" stroke="#111" font-weight="normal"  stroke-width="0.22">0.4</text>
<line x1="493.5" y1="916.4" x2="493.5" y2="921.2" stroke="#555" stroke-width="1" />
<text x="493.5" y="934.4" text-anchor="middle" font-family='"Liberation Sans", sans-serif' font-size="8" fill="#111" stroke="#111" font-weight="normal"  stroke-width="0.22">0.4</text>
<line x1="411.8" y1="814.16" x2="416.6" y2="814.16" stroke="#555" stroke-width="1" />
<text transform="translate(404.9,814.16) rotate(-90)" text-anchor="middle" font-family='"Liberation Sans", sans-serif' font-size="8" fill="#111" stroke="#111" font-weight="normal"  stroke-width="0.22">0.6</text>
<line x1="525.5" y1="916.4" x2="525.5" y2="921.2" stroke="#555" stroke-width="1" />
<text x="525.5" y="934.4" text-anchor="middle" font-family='"Liberation Sans", sans-serif' font-size="8" fill="#111" stroke="#111" font-weight="normal"  stroke-width="0.22">0.6</text>
<line x1="411.8" y1="782.08" x2="416.6" y2="782.08" stroke="#555" stroke-width="1" />
<text transform="translate(404.9,782.08) rotate(-90)" text-anchor="middle" font-family='"Liberation Sans", sans-serif' font-size="8" fill="#111" stroke="#111" font-weight="normal"  stroke-width="0.22">0.8</text>
<line x1="557.5" y1="916.4" x2="557.5" y2="921.2" stroke="#555" stroke-width="1" />
<text x="557.5" y="934.4" text-anchor="middle" font-family='"Liberation Sans", sans-serif' font-size="8" fill="#111" stroke="#111" font-weight="normal"  stroke-width="0.22">0.8</text>
<line x1="411.8" y1="750" x2="416.6" y2="750" stroke="#555" stroke-width="1" />
<text transform="translate(404.9,750) rotate(-90)" text-anchor="middle" font-family='"Liberation Sans", sans-serif' font-size="8" fill="#111" stroke="#111" font-weight="normal"  stroke-width="0.22">1.0</text>
<line x1="589.5" y1="916.4" x2="589.5" y2="921.2" stroke="#555" stroke-width="1" />
<text x="589.5" y="934.4" text-anchor="middle" font-family='"Liberation Sans", sans-serif' font-size="8" fill="#111" stroke="#111" font-weight="normal"  stroke-width="0.22">1.0</text>
<text x="509.4" y="949.3" text-anchor="middle" font-family='"Liberation Sans", sans-serif' font-size="8" fill="#111" stroke="#111" font-weight="normal"  stroke-width="0.22">1 &#8722; Specificity</text>
<text transform="translate(390.1,829.8) rotate(-90)" text-anchor="middle" font-family='"Liberation Sans", sans-serif' font-size="8" fill="#111" stroke="#111" font-weight="normal"  stroke-width="0.22">Sensitivity</text>
<clipPath id="cg"><rect x="416.6" y="743.4" width="185.79999999999995" height="173.0"/></clipPath>
<line x1="397.5" y1="942.48" x2="621.5" y2="717.92" stroke="#b4b4b4" stroke-width="1" clip-path="url(#cg)"/>
<polyline points="429.5,770.05 447.28,770.05 447.28,750" fill="none" stroke="#F84848" stroke-width="1.6" stroke-linejoin="round" />
<polyline points="447.28,790.1 447.28,750" fill="none" stroke="#EEE644" stroke-width="1.6" stroke-linejoin="round" />
<polyline points="429.5,790.1 429.5,750 465.06,750" fill="none" stroke="#48DC3C" stroke-width="1.6" stroke-linejoin="round" />
<polyline points="429.5,810.15 482.83,810.15 482.83,750" fill="none" stroke="#58F0F0" stroke-width="1.6" stroke-linejoin="round" />
<polyline points="429.5,910.4 429.5,790.1 465.06,790.1 465.06,750 589.5,750" fill="none" stroke="#D046E0" stroke-width="1.6" stroke-linejoin="round" />
<line x1="496" y1="845.4" x2="511.4" y2="845.4" stroke="#F84848" stroke-width="1.3" />
<text x="518.6" y="848.3" text-anchor="start" font-family='"Liberation Sans", sans-serif' font-size="8.15" fill="#111" stroke="#111" font-weight="normal"  stroke-width="0.22">KEAP1, AUC=0.986</text>
<line x1="496" y1="857.35" x2="511.4" y2="857.35" stroke="#EEE644" stroke-width="1.3" />
<text x="518.6" y="860.25" text-anchor="start" font-family='"Liberation Sans", sans-serif' font-size="8.15" fill="#111" stroke="#111" font-weight="normal"  stroke-width="0.22">TNFAIP3, AUC=0.972</text>
<line x1="496" y1="869.3" x2="511.4" y2="869.3" stroke="#48DC3C" stroke-width="1.3" />
<text x="518.6" y="872.2" text-anchor="start" font-family='"Liberation Sans", sans-serif' font-size="8.15" fill="#111" stroke="#111" font-weight="normal"  stroke-width="0.22">MEG3, AUC=1.000</text>
<line x1="496" y1="881.25" x2="511.4" y2="881.25" stroke="#58F0F0" stroke-width="1.3" />
<text x="518.6" y="884.15" text-anchor="start" font-family='"Liberation Sans", sans-serif' font-size="8.15" fill="#111" stroke="#111" font-weight="normal"  stroke-width="0.22">NFS1, AUC=0.875</text>
<line x1="496" y1="893.2" x2="511.4" y2="893.2" stroke="#4848F0" stroke-width="1.3" />
<text x="518.6" y="896.1" text-anchor="start" font-family='"Liberation Sans", sans-serif' font-size="8.15" fill="#111" stroke="#111" font-weight="normal"  stroke-width="0.22">PRDX1, AUC=0.944</text>
<line x1="496" y1="905.15" x2="511.4" y2="905.15" stroke="#D046E0" stroke-width="1.3" />
<text x="518.6" y="908.05" text-anchor="start" font-family='"Liberation Sans", sans-serif' font-size="8.15" fill="#111" stroke="#111" font-weight="normal"  stroke-width="0.22">BEX1, AUC=0.944</text>
</svg>
</body></html>
